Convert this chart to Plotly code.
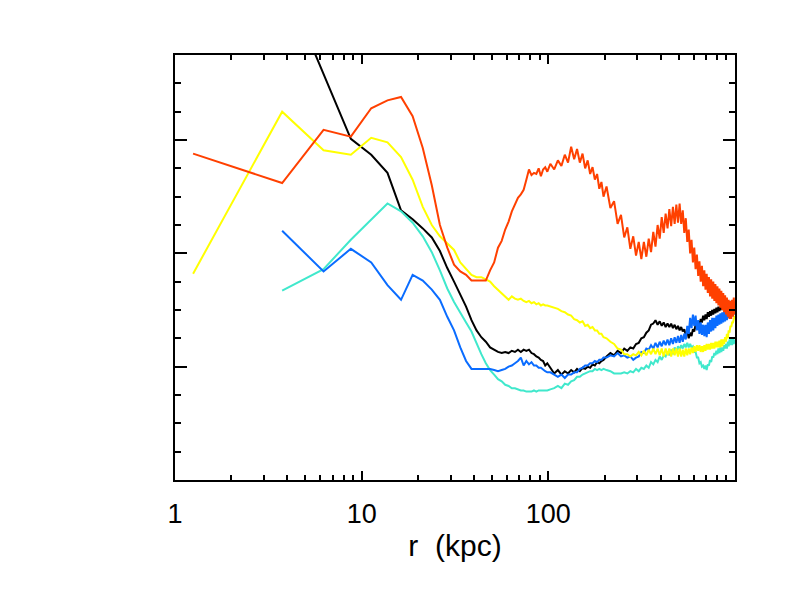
import plotly.graph_objects as go

# radial bin centres (kpc)
r = [1.25, 3.75, 6.25, 8.75, 11.25, 13.75, 16.25, 18.75, 21.25, 23.75,
     26.25, 28.75, 31.25, 33.75, 36.25, 38.75, 41.25, 43.75, 46.25, 48.75,
     51.25, 53.75, 56.25, 58.75, 61.25, 63.75, 66.25, 68.75, 71.25, 73.75,
     76.25, 78.75, 81.25, 83.75, 86.25, 88.75, 91.25, 93.75, 96.25, 98.75,
     102.5, 107.5, 112.5, 117.5, 122.5, 127.5, 132.5, 137.5, 142.5, 147.5,
     152.5, 157.5, 162.5, 167.5, 172.5, 177.5, 182.5, 187.5, 192.5, 197.5,
     205, 215, 225, 235, 245, 255, 265, 275, 285, 295,
     305, 315, 325, 335, 345, 355, 365, 375, 385, 395,
     405, 415, 425, 435, 445, 455, 465, 475, 485, 495,
     505, 515, 525, 535, 545, 555, 565, 575, 585, 595,
     605, 615, 625, 635, 645, 655, 665, 675, 685, 695,
     705, 715, 725, 735, 745, 755, 765, 775, 785, 795,
     805, 815, 825, 835, 845, 855, 865, 875, 885, 895,
     905, 915, 925, 935, 945, 955, 965, 975, 985, 995]

black = [None, 4.45, 3.58, 3.01, 2.87, 2.71, 2.38, 2.30, 2.22, 2.14,
         2.02, 1.87, 1.75, 1.63, 1.53, 1.41, 1.32, 1.26, 1.22, 1.17,
         1.15, 1.13, 1.12, 1.13, 1.12, 1.14, 1.13, 1.15, 1.13, 1.15,
         1.14, 1.15, 1.12, 1.11, 1.09, 1.08, 1.06, 1.05, 1.01, 1.03,
         0.99, 0.94, 0.97, 0.93, 0.96, 0.94, 0.97, 0.95, 0.98, 0.96,
         0.99, 0.98, 1.00, 0.99, 1.02, 1.01, 1.04, 1.03, 1.05, 1.06,
         1.09, 1.12, 1.10, 1.14, 1.12, 1.16, 1.14, 1.17, 1.16, 1.20,
         1.21, 1.25, 1.26, 1.30, 1.32, 1.37, 1.38, 1.41, 1.37, 1.40,
         1.36, 1.39, 1.35, 1.38, 1.35, 1.38, 1.34, 1.37, 1.33, 1.36,
         1.32, 1.35, 1.31, 1.33, 1.28, 1.31, 1.25, 1.30, 1.27, 1.33,
         1.31, 1.37, 1.34, 1.40, 1.37, 1.42, 1.39, 1.45, 1.41, 1.46,
         1.42, 1.48, 1.44, 1.49, 1.45, 1.50, 1.46, 1.51, 1.47, 1.52,
         1.48, 1.53, 1.49, 1.53, 1.50, 1.55, 1.50, 1.55, 1.51, 1.56,
         1.52, 1.56, 1.52, 1.57, 1.53, 1.58, 1.53, 1.58, 1.54, 1.57]

cyan = [None, 1.67, 1.86, 2.12, 2.30, 2.44, 2.37, 2.27, 2.15, 2.01,
        1.85, 1.69, 1.57, 1.47, 1.39, 1.31, 1.20, 1.11, 1.03, 0.97,
        0.93, 0.89, 0.87, 0.84, 0.83, 0.81, 0.81, 0.80, 0.79, 0.79,
        0.78, 0.78, 0.78, 0.79, 0.78, 0.79, 0.79, 0.79, 0.79, 0.79,
        0.80, 0.81, 0.83, 0.81, 0.85, 0.84, 0.87, 0.88, 0.91, 0.91,
        0.93, 0.94, 0.95, 0.96, 0.96, 0.98, 0.97, 0.98, 0.97, 0.98,
        0.97, 0.96, 0.94, 0.94, 0.94, 0.95, 0.94, 0.96, 0.95, 0.98,
        0.96, 0.99, 0.98, 1.01, 0.99, 1.04, 1.02, 1.06, 1.04, 1.09,
        1.06, 1.10, 1.09, 1.13, 1.10, 1.15, 1.11, 1.17, 1.13, 1.18,
        1.15, 1.19, 1.16, 1.20, 1.17, 1.21, 1.17, 1.20, 1.17, 1.18,
        1.13, 1.13, 1.08, 1.08, 1.03, 1.04, 1.00, 1.01, 0.98, 1.01,
        0.97, 1.02, 1.01, 1.06, 1.04, 1.09, 1.08, 1.12, 1.10, 1.14,
        1.11, 1.16, 1.12, 1.17, 1.13, 1.17, 1.14, 1.19, 1.16, 1.20,
        1.16, 1.22, 1.18, 1.24, 1.19, 1.25, 1.19, 1.26, 1.20, 1.24]

blue = [None, 2.20, 1.84, 2.04, 1.92, 1.72, 1.59, 1.81, 1.76, 1.68,
        1.59, 1.44, 1.32, 1.17, 1.05, 0.98, 0.98, 0.98, 0.98, 0.98,
        0.97, 0.96, 0.97, 0.98, 1.00, 1.01, 1.03, 1.05, 1.08, 1.01,
        1.05, 1.02, 1.04, 1.01, 1.01, 0.99, 0.99, 0.97, 0.96, 0.95,
        0.95, 0.93, 0.91, 0.93, 0.90, 0.93, 0.93, 0.95, 0.95, 0.98,
        0.99, 1.01, 1.01, 1.03, 1.03, 1.05, 1.04, 1.06, 1.06, 1.08,
        1.08, 1.10, 1.09, 1.12, 1.09, 1.10, 1.08, 1.09, 1.06, 1.08,
        1.09, 1.13, 1.12, 1.16, 1.15, 1.19, 1.16, 1.21, 1.17, 1.22,
        1.18, 1.23, 1.19, 1.24, 1.19, 1.25, 1.20, 1.26, 1.21, 1.27,
        1.21, 1.28, 1.22, 1.29, 1.24, 1.36, 1.29, 1.43, 1.34, 1.46,
        1.36, 1.45, 1.32, 1.41, 1.29, 1.39, 1.28, 1.37, 1.27, 1.37,
        1.26, 1.39, 1.29, 1.41, 1.31, 1.43, 1.32, 1.43, 1.34, 1.45,
        1.36, 1.46, 1.37, 1.47, 1.38, 1.48, 1.39, 1.49, 1.40, 1.50,
        1.41, 1.51, 1.43, 1.52, 1.44, 1.52, 1.45, 1.54, 1.46, 1.52]

yellow = [1.82, 3.25, 2.91, 2.87, 3.02, 2.98, 2.85, 2.65, 2.41, 2.25,
          2.15, 2.09, 2.03, 1.92, 1.86, 1.81, 1.79, 1.79, 1.77, 1.75,
          1.71, 1.68, 1.65, 1.62, 1.59, 1.62, 1.60, 1.59, 1.60, 1.58,
          1.57, 1.58, 1.56, 1.57, 1.55, 1.56, 1.54, 1.55, 1.54, 1.54,
          1.53, 1.52, 1.51, 1.49, 1.48, 1.46, 1.45, 1.42, 1.41, 1.39,
          1.40, 1.36, 1.37, 1.34, 1.35, 1.32, 1.32, 1.29, 1.29, 1.26,
          1.25, 1.22, 1.20, 1.16, 1.15, 1.11, 1.11, 1.09, 1.11, 1.10,
          1.13, 1.10, 1.14, 1.10, 1.15, 1.11, 1.16, 1.11, 1.16, 1.10,
          1.16, 1.09, 1.16, 1.10, 1.16, 1.09, 1.16, 1.10, 1.16, 1.09,
          1.16, 1.09, 1.15, 1.09, 1.16, 1.10, 1.16, 1.11, 1.17, 1.12,
          1.18, 1.13, 1.19, 1.14, 1.19, 1.13, 1.18, 1.13, 1.19, 1.14,
          1.20, 1.15, 1.20, 1.15, 1.21, 1.16, 1.21, 1.16, 1.22, 1.17,
          1.22, 1.17, 1.23, 1.17, 1.24, 1.18, 1.24, 1.20, 1.26, 1.22,
          1.29, 1.25, 1.32, 1.30, 1.36, 1.35, 1.39, 1.39, 1.43, 1.45]

orange = [2.88, 2.62, 3.09, 3.03, 3.28, 3.35, 3.38, 3.21, 2.93, 2.60,
          2.25, 2.05, 1.90, 1.84, 1.81, 1.76, 1.76, 1.76, 1.76, 1.85,
          1.92, 2.05, 2.11, 2.21, 2.28, 2.37, 2.44, 2.49, 2.52, 2.56,
          2.65, 2.74, 2.69, 2.71, 2.70, 2.75, 2.68, 2.74, 2.76, 2.72,
          2.79, 2.74, 2.82, 2.77, 2.87, 2.80, 2.94, 2.83, 2.92, 2.80,
          2.88, 2.75, 2.82, 2.70, 2.76, 2.65, 2.70, 2.57, 2.63, 2.50,
          2.59, 2.40, 2.46, 2.26, 2.34, 2.14, 2.23, 2.04, 2.15, 1.98,
          2.10, 1.95, 2.10, 1.97, 2.13, 2.01, 2.19, 2.06, 2.25, 2.13,
          2.32, 2.18, 2.35, 2.22, 2.39, 2.24, 2.41, 2.26, 2.43, 2.27,
          2.44, 2.26, 2.38, 2.18, 2.31, 2.10, 2.21, 2.00, 2.12, 1.92,
          2.05, 1.86, 1.99, 1.80, 1.93, 1.75, 1.89, 1.71, 1.85, 1.68,
          1.82, 1.65, 1.79, 1.62, 1.77, 1.60, 1.75, 1.58, 1.73, 1.56,
          1.71, 1.54, 1.69, 1.52, 1.67, 1.50, 1.65, 1.48, 1.63, 1.46,
          1.61, 1.44, 1.59, 1.42, 1.58, 1.42, 1.59, 1.44, 1.61, 1.46]

x_tickvals = [1, 10, 100]
x_ticktext = ["1", "10", "100"]
x_minor = [2, 3, 4, 5, 6, 7, 8, 9, 20, 30, 40, 50, 60, 70, 80, 90,
           200, 300, 400, 500, 600, 700, 800, 900]
y_major = [0, 1, 2, 3]
y_minor = [0.25, 0.5, 0.75, 1.25, 1.5, 1.75, 2.25, 2.5, 2.75, 3.25, 3.5, 3.75]

series = [
    ("black", black, "#000000"),
    ("cyan", cyan, "#40e8cc"),
    ("blue", blue, "#0a6cff"),
    ("yellow", yellow, "#ffff00"),
    ("orange", orange, "#ff4000"),
]

fig = go.Figure()
for name, vals, col in series:
    fig.add_trace(go.Scatter(x=r, y=vals, mode="lines", name=name,
                             line=dict(color=col, width=2), connectgaps=False))

font = dict(family="Liberation Sans, Arial, sans-serif", size=27, color="#000000")
title_font = dict(family="Liberation Sans, Arial, sans-serif", size=30, color="#000000")

fig.update_layout(
    width=786, height=591,
    margin=dict(l=167, r=59, t=47, b=119),
    paper_bgcolor="white", plot_bgcolor="white",
    showlegend=False,
    font=font,
)
fig.update_xaxes(
    type="log", range=[0, 3],
    showgrid=False, zeroline=False,
    showline=True, linecolor="black", linewidth=2, mirror="ticks",
    ticks="inside", ticklen=9, tickwidth=2, tickcolor="black",
    tickmode="array", tickvals=x_tickvals, ticktext=x_ticktext,
    tickfont=font, ticklabelstandoff=9,
    minor=dict(ticks="inside", ticklen=5, tickwidth=2, tickcolor="black",
               tickmode="array", tickvals=x_minor, showgrid=False),
    title=dict(text="r\u00a0\u00a0(kpc)", font=title_font, standoff=7),
)
fig.update_yaxes(
    range=[0, 3.75],
    showgrid=False, zeroline=False,
    showline=True, linecolor="black", linewidth=2, mirror="ticks",
    ticks="inside", ticklen=12, tickwidth=2, tickcolor="black",
    tickmode="array", tickvals=y_major, showticklabels=False,
    minor=dict(ticks="inside", ticklen=6, tickwidth=2, tickcolor="black",
               tickmode="array", tickvals=y_minor, showgrid=False),
)

fig.write_html("out.html")
